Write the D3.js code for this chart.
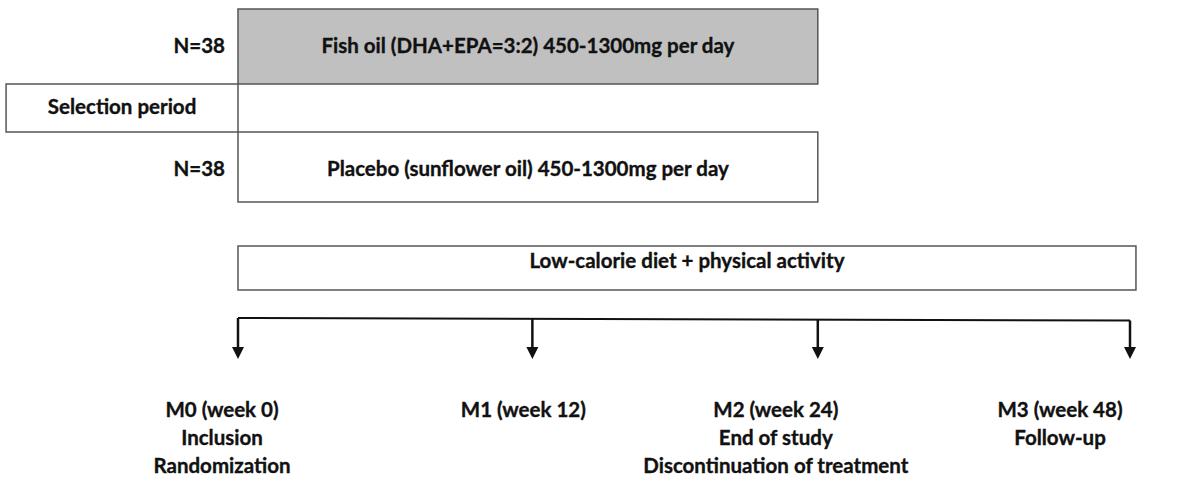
<!DOCTYPE html>
<html><head><meta charset="utf-8">
<script src="https://cdn.jsdelivr.net/npm/d3@7"></script>
<style>body{margin:0;background:#fff}svg{display:block}text{font-family:Lato,"Open Sans",sans-serif;font-weight:700;fill:#111;stroke:#111;stroke-width:0.35px}</style>
</head><body><svg id="c" width="1200" height="485"></svg>
<script>
// ---- data ----
const milestones = ["M0 (week 0)", "M1 (week 12)", "M2 (week 24)", "M3 (week 48)"];
const milestoneSlots = [0, 0.99, 1.95, 3];
const milestoneNotes = [["Inclusion", "Randomization"], [], ["End of study", "Discontinuation of treatment"], ["Follow-up"]];
const armLabels = ["Fish oil (DHA+EPA=3:2) 450-1300mg per day", "Placebo (sunflower oil) 450-1300mg per day"];
const armN = ["N=38", "N=38"];
const armSpan = [[0, 1.95], [0, 1.95]];
const selectionLabel = "Selection period";
const selectionSpan = [-0.78, 0];
const interventionLabel = "Low-calorie diet + physical activity";
const interventionSpan = [0, 3.02];

// ---- layout ----
const svg = d3.select("#c");
const x = d3.scaleLinear().domain([0, 3]).range([238, 1130]);
const fs = 20.5;
const border = "#555";

// arm boxes
const armY = [[9, 84], [132, 202]];
const armFill = ["#c0c0c0", "#fff"];
armLabels.forEach((lab, i) => {
  const [a, b] = armSpan[i], [y0, y1] = armY[i];
  svg.append("rect").attr("x", x(a)).attr("y", y0).attr("width", x(b) - x(a)).attr("height", y1 - y0)
    .attr("fill", armFill[i]).attr("stroke", border).attr("stroke-width", 1.5);
  svg.append("text").attr("x", (x(a) + x(b)) / 2).attr("y", y0 + 44).attr("text-anchor", "middle")
    .attr("font-size", fs).text(lab);
  svg.append("text").attr("x", 225).attr("y", y0 + 44).attr("text-anchor", "end")
    .attr("font-size", fs).text(armN[i]);
});

// selection period box
svg.append("rect").attr("x", x(selectionSpan[0])).attr("y", 84).attr("width", x(selectionSpan[1]) - x(selectionSpan[0])).attr("height", 48)
  .attr("fill", "#fff").attr("stroke", border).attr("stroke-width", 1.5);
svg.append("text").attr("x", (x(selectionSpan[0]) + x(selectionSpan[1])) / 2).attr("y", 114).attr("text-anchor", "middle")
  .attr("font-size", fs).text(selectionLabel);

// intervention box
svg.append("rect").attr("x", x(interventionSpan[0])).attr("y", 246).attr("width", x(interventionSpan[1]) - x(interventionSpan[0])).attr("height", 44)
  .attr("fill", "#fff").attr("stroke", border).attr("stroke-width", 1.5);
svg.append("text").attr("x", (x(interventionSpan[0]) + x(interventionSpan[1])) / 2).attr("y", 268).attr("text-anchor", "middle")
  .attr("font-size", fs).text(interventionLabel);

// timeline
const lineY = d3.scaleLinear().domain([0, 3]).range([318, 320.5]);
svg.append("line").attr("x1", x(0)).attr("x2", x(3)).attr("y1", lineY(0)).attr("y2", lineY(3))
  .attr("stroke", "#111").attr("stroke-width", 2);

milestones.forEach((m, i) => {
  const cx = x(milestoneSlots[i]);
  const top = lineY(milestoneSlots[i]);
  svg.append("line").attr("x1", cx).attr("x2", cx).attr("y1", top).attr("y2", 348)
    .attr("stroke", "#111").attr("stroke-width", 2.5);
  svg.append("path").attr("d", `M${cx - 6},${347}L${cx + 6},${347}L${cx},${359}Z`).attr("fill", "#111");
  const lx = cx - 16 + (i === 3 ? -54 : i === 2 ? -26 : i === 1 ? 7 : 0);
  const lines = [m].concat(milestoneNotes[i]);
  lines.forEach((t, j) => {
    svg.append("text").attr("x", lx).attr("y", 417 + j * 28).attr("text-anchor", "middle")
      .attr("font-size", fs).text(t);
  });
});
</script></body></html>
